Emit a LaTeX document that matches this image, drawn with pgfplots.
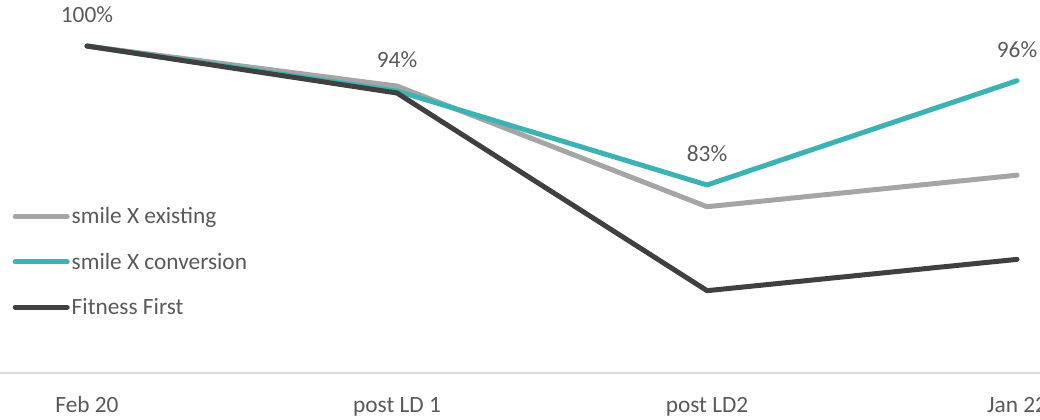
\documentclass[border=0pt]{standalone}
\usepackage{pgfplots}
\pgfplotsset{compat=1.18}
\usepackage{fontspec}
\setmainfont{Carlito}
\definecolor{cgrey}{HTML}{A5A5A5}
\definecolor{cteal}{HTML}{3CB3B3}
\definecolor{cdark}{HTML}{404040}
\definecolor{ctext}{HTML}{595959}
\definecolor{caxis}{HTML}{D9D9D9}
\begin{document}
\begin{tikzpicture}
\useasboundingbox (0,-35.25pt) rectangle (780pt,279.75pt);
\clip (0,-35.25pt) rectangle (780pt,279.75pt);
\begin{axis}[
  at={(0,0)}, anchor=south west,
  scale only axis, width=780pt, height=279.75pt,
  xmin=-0.2806, xmax=3.074, ymin=60, ymax=105.63,
  axis x line*=bottom, axis y line=none,
  x axis line style={draw=caxis, line width=1.5pt, -},
  xtick={0,1,2,3}, xticklabels={Feb 20,post LD 1,post LD2,Jan 22},
  major tick length=0pt,
  xticklabel style={anchor=base, yshift=-29.6pt, font=\fontsize{17.5}{21}\selectfont, text=ctext},
  clip=false,
  legend cell align=left,
  legend style={at={(axis description cs:0.012,0.4496)}, anchor=north west, draw=none, fill=none,
    font=\fontsize{17.5}{21}\selectfont, text=ctext, row sep=17.3pt, inner sep=0pt,
    nodes={inner sep=1.5pt}},
  legend image code/.code={\draw[#1, line cap=round] (0pt,0pt) -- (39pt,0pt);},
]
\addplot[cgrey, line width=3.75pt, line join=round, line cap=round] coordinates {(0,100) (1,95.1) (2,80.34) (3,84.2)};
\addlegendentry{smile X existing}
\addplot[cteal, line width=3.75pt, line join=round, line cap=round,
  point meta=explicit symbolic, nodes near coords,
  every node near coord/.append style={anchor=south, inner sep=0pt, yshift=15.4pt, text=ctext, font=\fontsize{17.5}{21}\selectfont}]
  coordinates {(0,100) [100\%] (1,94.5) [94\%] (2,83.0) [83\%] (3,95.76) [96\%]};
\addlegendentry{smile X conversion}
\addplot[cdark, line width=3.75pt, line join=round, line cap=round] coordinates {(0,100) (1,94.25) (2,70.07) (3,73.9)};
\addlegendentry{Fitness First}
\end{axis}
\end{tikzpicture}
\end{document}
